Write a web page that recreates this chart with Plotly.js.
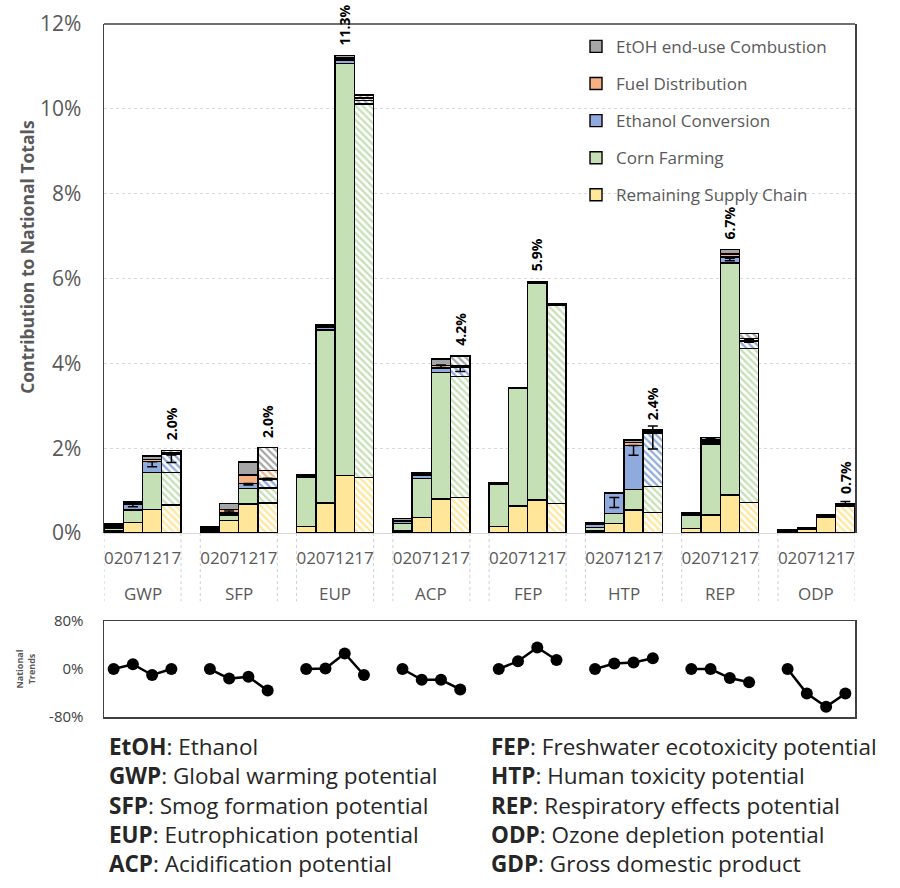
<!DOCTYPE html>
<html>
<head>
<meta charset="utf-8">
<script src="https://cdn.plot.ly/plotly-3.0.1.min.js"></script>
<style>html,body{margin:0;padding:0;background:#fff;}</style>
</head>
<body>
<div id="chart" style="width:900px;height:888px;"></div>
<script>
// ---------------- DATA ----------------
const groups = ['GWP','SFP','EUP','ACP','FEP','HTP','REP','ODP'];
const years = ['02','07','12','17'];

// % contribution to national totals, 4 years per group (02,07,12,17)
const remainingSupply = [0.05,0.25,0.56,0.66, 0.05,0.29,0.68,0.71, 0.16,0.71,1.35,1.31, 0.05,0.37,0.80,0.84,
                         0.16,0.64,0.78,0.70, 0.05,0.23,0.54,0.49, 0.10,0.42,0.90,0.72, 0.03,0.08,0.37,0.64];
const cornFarming     = [0.07,0.29,0.86,0.76, 0.03,0.13,0.37,0.35, 1.15,4.08,9.72,8.80, 0.17,0.92,2.99,2.85,
                         1.00,2.76,5.11,4.67, 0.08,0.23,0.49,0.60, 0.32,1.68,5.47,3.63, 0.01,0.02,0.02,0.01];
const ethanolConv     = [0.04,0.14,0.27,0.44, 0.03,0.05,0.12,0.21, 0.03,0.05,0.08,0.09, 0.05,0.08,0.10,0.22,
                         0.01,0.01,0.01,0.01, 0.07,0.48,1.03,1.25, 0.02,0.05,0.14,0.18, 0.01,0.01,0.02,0.01];
const fuelDist        = [0.02,0.03,0.05,0.04, 0.02,0.08,0.20,0.20, 0.02,0.04,0.05,0.06, 0.03,0.03,0.06,0.04,
                         0.01,0.01,0.02,0.01, 0.02,0.01,0.08,0.04, 0.02,0.04,0.07,0.05, 0.01,0.01,0.02,0.01];
const endUseComb      = [0.03,0.04,0.08,0.05, 0.03,0.14,0.30,0.54, 0.02,0.04,0.06,0.07, 0.04,0.03,0.15,0.22,
                         0.01,0.01,0.01,0.01, 0.02,0.01,0.05,0.05, 0.02,0.06,0.11,0.13, 0.01,0.01,0.01,0.01];

// uncertainty bars (centre, half-range), % units
const errCenter = [null,0.65,1.62,1.75, null,0.50,1.15,1.27, null,null,null,null, null,null,3.93,3.86,
                   null,null,null,null, null,0.72,1.95,2.25, null,2.20,6.45,4.53, null,null,null,0.71];
const errHalf   = [null,0.03,0.06,0.09, null,0.02,0.02,0.02, null,null,null,null, null,null,0.03,0.05,
                   null,null,null,null, null,0.12,0.115,0.27, null,0.03,0.03,0.03, null,null,null,0.03];

const peakLabels = ['2.0%','2.0%','11.3%','4.2%','5.9%','2.4%','6.7%','0.7%'];

// national trends (% change vs 2002)
const trendGWP = [0, 8, -10, 0];
const trendSFP = [0, -16, -13, -36];
const trendEUP = [0, 1, 26, -10];
const trendACP = [0, -18, -18, -34];
const trendFEP = [0, 13, 36, 15];
const trendHTP = [0, 9, 11, 18];
const trendREP = [0, 0, -15, -22];
const trendODP = [0, -41, -63, -41];
const trends = [trendGWP,trendSFP,trendEUP,trendACP,trendFEP,trendHTP,trendREP,trendODP];
const trendTicks = [-80, 0, 80];
const trendTickText = ['-80%', '0%', '80%'];

const footLeft = [['EtOH','Ethanol'],['GWP','Global warming potential'],['SFP','Smog formation potential'],
                  ['EUP','Eutrophication potential'],['ACP','Acidification potential']];
const footRight = [['FEP','Freshwater ecotoxicity potential'],['HTP','Human toxicity potential'],
                   ['REP','Respiratory effects potential'],['ODP','Ozone depletion potential'],
                   ['GDP','Gross domestic product']];

// ---------------- BUILD ----------------
const FONT = '"Open Sans", sans-serif';
const step = years.length + 1;
const xPos = [], tickText = [], patterns = [];
groups.forEach((g, gi) => years.forEach((y, yi) => {
  xPos.push(gi * step + yi);
  tickText.push(y);
  patterns.push(y === '17' ? '\\' : '');
}));

const series = [
  {name:'Remaining Supply Chain', y:remainingSupply, color:'#ffe699'},
  {name:'Corn Farming', y:cornFarming, color:'#c5e0b4'},
  {name:'Ethanol Conversion', y:ethanolConv, color:'#8faadc'},
  {name:'Fuel Distribution', y:fuelDist, color:'#f4b183'},
  {name:'EtOH end-use Combustion', y:endUseComb, color:'#a5a5a5'}
];

const traces = series.map((s, si) => ({
  type:'bar', name:s.name, x:xPos, y:s.y, xaxis:'x', yaxis:'y',
  legendgroup:s.name, legendrank:series.length - si,
  marker:{color:s.color, line:{color:'#000', width:1.4},
          pattern:{shape:patterns, fillmode:'replace', bgcolor:'#ffffff', size:5, solidity:0.45}},
  hoverinfo:'x+y+name'
}));

traces.push({
  type:'scatter', mode:'markers', x:xPos, y:errCenter, xaxis:'x', yaxis:'y',
  marker:{size:1, color:'rgba(0,0,0,0)'}, showlegend:false, hoverinfo:'skip',
  error_y:{type:'data', array:errHalf, visible:true, color:'#000', thickness:1.5, width:5}
});

trends.forEach((t, gi) => {
  traces.push({
    type:'scatter', mode:'lines+markers', x:years.map((y, yi) => gi * step + yi), y:t,
    xaxis:'x2', yaxis:'y2', showlegend:false,
    line:{color:'#000', width:2.5}, marker:{color:'#000', size:12}
  });
});

const totals = xPos.map((_, i) => series.reduce((a, s) => a + s.y[i], 0));
const annotations = [];
groups.forEach((g, gi) => {
  let best = gi * years.length;
  for (let k = 0; k < years.length; k++) {
    const i = gi * years.length + k;
    if (totals[i] > totals[best]) best = i;
  }
  annotations.push({
    x:xPos[best], y:totals[best], xref:'x', yref:'y', text:'<b>' + peakLabels[gi] + '</b>',
    showarrow:false, textangle:-90, yanchor:'bottom', xanchor:'center', yshift:8,
    font:{size:14, color:'#000', family:FONT}
  });
  annotations.push({
    x:gi * step + (years.length - 1) / 2, y:0.1775, xref:'x', yref:'paper', text:g,
    showarrow:false, yanchor:'middle', font:{size:17, color:'#595959', family:FONT}
  });
});

annotations.push({
  x:-0.1025, y:0.664, xref:'paper', yref:'paper', xanchor:'center', yanchor:'middle',
  showarrow:false, textangle:-90, text:'<b>Contribution to National Totals</b>',
  font:{size:17.5, color:'#595959', family:FONT}
});

const footText = list => list.map(f => '<b>' + f[0] + '</b>: ' + f[1]).join('<br>');
annotations.push({
  x:0.004, y:-0.127, xref:'paper', yref:'paper', xanchor:'left', yanchor:'middle', align:'left',
  showarrow:false, text:footText(footLeft), font:{size:22.5, color:'#262626', family:FONT}
});
annotations.push({
  x:0.5127, y:-0.127, xref:'paper', yref:'paper', xanchor:'left', yanchor:'middle', align:'left',
  showarrow:false, text:footText(footRight), font:{size:22.5, color:'#262626', family:FONT}
});

const shapes = [{type:'line', xref:'x domain', yref:'y domain', x0:0, x1:1, y0:1, y1:1,
                 line:{color:'#404040', width:1.5}}];
groups.forEach((g, gi) => {
  [gi * step - 0.5, gi * step + years.length - 0.5].forEach(xv => shapes.push({
    type:'line', xref:'x', yref:'paper', x0:xv, x1:xv, y0:0.2655, y1:0.167,
    line:{color:'#d0d0d0', width:1, dash:'dot'}
  }));
});

const xRange = [-0.5, groups.length * step - 1.5];
const layout = {
  width:900, height:888,
  margin:{l:104, r:45, t:24, b:171},
  paper_bgcolor:'#ffffff', plot_bgcolor:'#ffffff',
  barmode:'stack', bargap:0,
  font:{family:FONT, color:'#595959'},
  showlegend:true,
  legend:{x:0.6285, y:0.993, xanchor:'left', yanchor:'top', traceorder:'grouped',
          bgcolor:'rgba(0,0,0,0)', font:{size:17, color:'#595959', family:FONT}, tracegroupgap:12},
  xaxis:{domain:[0,1], anchor:'y', range:xRange, tickmode:'array', tickvals:xPos, ticktext:tickText,
         tickangle:0, ticks:'', showgrid:false, zeroline:false, showline:false,
         tickfont:{size:17, color:'#595959'}, ticklabelstandoff:13},
  yaxis:{domain:[0.2655,1], anchor:'x', range:[0,12], dtick:2, tick0:0, ticksuffix:'%',
         showgrid:true, gridcolor:'#d9d9d9', griddash:'dot', gridwidth:1,
         zeroline:true, zerolinecolor:'#d9d9d9', zerolinewidth:1,
         showline:true, mirror:true, linecolor:'#404040', linewidth:1.5,
         ticks:'', ticklabelstandoff:17, tickfont:{size:21, color:'#595959'}},
  xaxis2:{domain:[0,1], anchor:'y2', range:xRange, showticklabels:false, ticks:'',
          showgrid:false, zeroline:false, showline:true, mirror:true, linecolor:'#404040', linewidth:1.5},
  yaxis2:{domain:[0,0.1385], anchor:'x2', range:[-80,80], tickmode:'array', tickvals:trendTicks, ticktext:trendTickText,
          showgrid:false, zeroline:false, showline:true, mirror:true, linecolor:'#404040', linewidth:1.5,
          ticks:'', ticklabelstandoff:16, tickfont:{size:15, color:'#404040'},
          title:{text:'<b>National<br>Trends</b>', font:{size:9, color:'#595959'}, standoff:12}},
  annotations:annotations,
  shapes:shapes
};

Plotly.newPlot('chart', traces, layout, {displayModeBar:false, staticPlot:true});
</script>
</body>
</html>
